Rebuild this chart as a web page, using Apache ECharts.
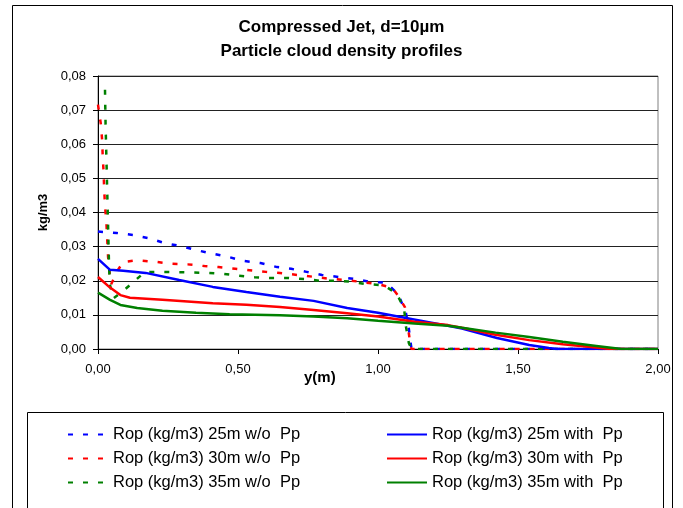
<!DOCTYPE html>
<html>
<head>
<meta charset="utf-8">
<script src="https://cdn.jsdelivr.net/npm/echarts@6/dist/echarts.min.js"></script>
<style>
html,body{margin:0;padding:0;background:#fff;}
#c{width:683px;height:508px;}
</style>
</head>
<body>
<div id="c"></div>
<script>
// ---- data ----
var titleLines = ['Compressed Jet, d=10\u00b5m', 'Particle cloud density profiles'];
var xTicks = [0, 0.5, 1, 1.5, 2];
var yTicks = [0, 0.01, 0.02, 0.03, 0.04, 0.05, 0.06, 0.07, 0.08];
var seriesNames = [
  'Rop (kg/m3) 25m w/o  Pp', 'Rop (kg/m3) 30m w/o  Pp', 'Rop (kg/m3) 35m w/o  Pp',
  'Rop (kg/m3) 25m with  Pp', 'Rop (kg/m3) 30m with  Pp', 'Rop (kg/m3) 35m with  Pp'
];

var blueDashX = [0, 0.067, 0.126, 0.18, 0.24, 0.293, 0.35, 0.41, 0.465, 0.52, 0.58, 0.64, 0.69, 0.745, 0.80, 0.86, 0.92, 0.97, 1.03, 1.06, 1.08, 1.10, 1.11, 1.118, 1.12, 1.5, 2.0];
var blueDashY = [0.0344, 0.034, 0.0334, 0.0325, 0.031, 0.0302, 0.029, 0.0279, 0.027, 0.0258, 0.0252, 0.024, 0.0235, 0.0226, 0.0217, 0.0211, 0.0205, 0.0197, 0.0194, 0.017, 0.0145, 0.0105, 0.006, 0.001, 0, 0, 0];

var redDashX = [0, 0.01, 0.015, 0.017, 0.02, 0.022, 0.025, 0.03, 0.033, 0.036, 0.042, 0.047, 0.07, 0.09, 0.14, 0.21, 0.26, 0.32, 0.38, 0.43, 0.49, 0.55, 0.6, 0.65, 0.775, 0.836, 0.889, 0.943, 1.0, 1.05, 1.07, 1.096, 1.106, 1.11, 1.117, 1.12, 1.5, 2.0];
var redDashY = [0.0716, 0.066, 0.061, 0.056, 0.052, 0.047, 0.042, 0.037, 0.032, 0.027, 0.022, 0.019, 0.023, 0.0255, 0.026, 0.0255, 0.025, 0.0248, 0.0243, 0.024, 0.0235, 0.023, 0.0226, 0.0223, 0.0211, 0.0205, 0.0202, 0.0196, 0.019, 0.018, 0.0158, 0.0123, 0.0085, 0.0047, 0.0006, 0, 0, 0];

var greenDashX = [0.025, 0.027, 0.03, 0.033, 0.036, 0.039, 0.042, 0.055, 0.09, 0.126, 0.168, 0.23, 0.3, 0.39, 0.45, 0.5, 0.56, 0.62, 0.68, 0.74, 0.79, 0.85, 0.906, 0.96, 1.02, 1.066, 1.093, 1.10, 1.11, 1.12, 1.5, 2.0];
var greenDashY = [0.076, 0.066, 0.056, 0.046, 0.036, 0.026, 0.019, 0.0148, 0.017, 0.0196, 0.0226, 0.0226, 0.0225, 0.0223, 0.022, 0.0215, 0.021, 0.0208, 0.0208, 0.0205, 0.02, 0.02, 0.0197, 0.019, 0.0187, 0.0163, 0.012, 0.0065, 0.0018, 0, 0, 0];

var blueSolidX = [0, 0.043, 0.09, 0.17, 0.29, 0.41, 0.53, 0.65, 0.77, 0.89, 1.0, 1.10, 1.186, 1.25, 1.30, 1.425, 1.54, 1.61, 1.64, 2.0];
var blueSolidY = [0.0264, 0.0232, 0.0229, 0.0223, 0.0202, 0.0182, 0.0167, 0.0153, 0.0141, 0.012, 0.0106, 0.0091, 0.0078, 0.0068, 0.006, 0.0032, 0.0012, 0.0003, 0, 0];

var redSolidX = [0, 0.043, 0.08, 0.114, 0.23, 0.41, 0.53, 0.65, 0.77, 0.89, 1.0, 1.13, 1.25, 1.30, 1.42, 1.54, 1.66, 1.76, 1.83, 2.0];
var redSolidY = [0.0211, 0.018, 0.0158, 0.015, 0.0144, 0.0134, 0.013, 0.0123, 0.0114, 0.0105, 0.0095, 0.008, 0.007, 0.0062, 0.0042, 0.0026, 0.0014, 0.0006, 0, 0];

var greenSolidX = [0, 0.043, 0.08, 0.14, 0.23, 0.35, 0.47, 0.65, 0.77, 0.89, 1.0, 1.13, 1.25, 1.30, 1.42, 1.54, 1.66, 1.78, 1.87, 2.0];
var greenSolidY = [0.0165, 0.0144, 0.0129, 0.012, 0.0112, 0.0106, 0.0102, 0.0099, 0.0095, 0.009, 0.0083, 0.0075, 0.0068, 0.0062, 0.0048, 0.0035, 0.0021, 0.0009, 0, 0];

// ---- build ----
function zip(xs, ys) { return xs.map(function (x, i) { return [x, ys[i]]; }); }
var FONT = '"Liberation Sans", Arial, sans-serif';
var dash = [5, 10];
function mk(name, xs, ys, color, dashed, z) {
  return {
    name: name, type: 'line', data: zip(xs, ys), showSymbol: false, symbol: 'none',
    smooth: false, z: z, animation: false,
    lineStyle: { color: color, width: 2.5, type: dashed ? dash : 'solid', cap: 'butt' },
    itemStyle: { color: color }
  };
}
function legendCol(names, left) {
  return {
    data: names, left: left, top: 426, orient: 'vertical', padding: 0,
    itemWidth: 40, itemHeight: 14, itemGap: 7,
    itemStyle: { opacity: 0 },
    textStyle: { fontFamily: FONT, fontSize: 16.5, color: '#000' }
  };
}

var chart = echarts.init(document.getElementById('c'), null, { renderer: 'canvas' });
chart.setOption({
  backgroundColor: '#fff',
  animation: false,
  title: {
    text: titleLines.join('\n'),
    left: 'center', top: 10,
    textStyle: { fontFamily: FONT, fontSize: 17, fontWeight: 'bold', color: '#000', lineHeight: 24 }
  },
  graphic: [
    { type: 'rect', shape: { x: 12.5, y: 5.5, width: 660, height: 540 }, style: { fill: 'none', stroke: '#000', lineWidth: 1 }, silent: true, z: -1 },
    { type: 'rect', shape: { x: 27.5, y: 412.5, width: 636, height: 140 }, style: { fill: 'none', stroke: '#000', lineWidth: 1 }, silent: true, z: -1 },
    { type: 'text', left: 304, top: 370, style: { text: 'y(m)', font: 'bold 15px ' + FONT, fill: '#000' }, silent: true }
  ],
  grid: { left: 98, right: 25, top: 76, bottom: 159, show: true, borderColor: '#808080', borderWidth: 1, backgroundColor: 'transparent' },
  legend: [legendCol(seriesNames.slice(0, 3), 67), legendCol(seriesNames.slice(3), 386)],
  xAxis: {
    type: 'value', min: xTicks[0], max: xTicks[xTicks.length - 1], interval: 0.5,
    axisLine: { show: true, onZero: false, lineStyle: { color: '#000', width: 1 } },
    axisTick: { show: true, inside: false, length: 5, lineStyle: { color: '#000' } },
    splitLine: { show: false },
    axisLabel: { color: '#000', fontFamily: FONT, fontSize: 13, margin: 14,
      formatter: function (v) { return v.toFixed(2).replace('.', ','); } }
  },
  yAxis: {
    type: 'value', min: yTicks[0], max: yTicks[yTicks.length - 1], interval: 0.01,
    name: 'kg/m3', nameLocation: 'middle', nameGap: 48, nameRotate: 90,
    nameTextStyle: { fontFamily: FONT, fontSize: 13, fontWeight: 'bold', color: '#000' },
    axisLine: { show: true, lineStyle: { color: '#000', width: 1 } },
    axisTick: { show: true, inside: false, length: 5, lineStyle: { color: '#000' } },
    splitLine: { show: true, lineStyle: { color: '#222', width: 1 } },
    axisLabel: { color: '#000', fontFamily: FONT, fontSize: 13, margin: 12,
      formatter: function (v) { return v.toFixed(2).replace('.', ','); } }
  },
  series: [
    mk(seriesNames[0], blueDashX, blueDashY, '#0000FF', true, 2),
    mk(seriesNames[1], redDashX, redDashY, '#FF0000', true, 3),
    mk(seriesNames[2], greenDashX, greenDashY, '#008000', true, 4),
    mk(seriesNames[3], blueSolidX, blueSolidY, '#0000FF', false, 5),
    mk(seriesNames[4], redSolidX, redSolidY, '#FF0000', false, 6),
    mk(seriesNames[5], greenSolidX, greenSolidY, '#008000', false, 7)
  ]
});
</script>
</body>
</html>
